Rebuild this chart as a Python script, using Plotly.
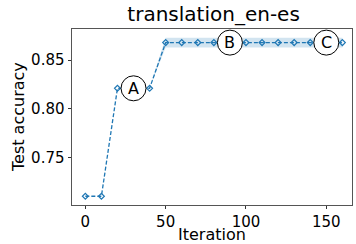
import plotly.graph_objects as go

iterations = [0, 10, 20, 30, 40, 50, 60, 70, 80, 90, 100, 110, 120, 130, 140, 150, 160]
accuracy = [0.710, 0.710, 0.821, 0.821, 0.821, 0.868, 0.868, 0.868, 0.868, 0.868,
            0.868, 0.868, 0.868, 0.868, 0.868, 0.868, 0.868]
band_low = [0.710, 0.710, 0.821, 0.821, 0.821, 0.863, 0.863, 0.863, 0.863, 0.863,
            0.863, 0.863, 0.863, 0.863, 0.863, 0.863, 0.863]
band_high = [0.710, 0.710, 0.821, 0.821, 0.821, 0.873, 0.873, 0.873, 0.873, 0.873,
             0.873, 0.873, 0.873, 0.873, 0.873, 0.873, 0.873]
labels = ["A", "B", "C"]
label_x = [30, 90, 150]
label_y = [0.821, 0.868, 0.868]

C0 = "#1f77b4"
FONT = "DejaVu Sans"

fig = go.Figure()
fig.add_trace(go.Scatter(x=iterations, y=band_high, mode="lines",
                         line=dict(width=0), hoverinfo="skip", showlegend=False))
fig.add_trace(go.Scatter(x=iterations, y=band_low, mode="lines", fill="tonexty",
                         fillcolor="rgba(31,119,180,0.2)",
                         line=dict(width=0), hoverinfo="skip", showlegend=False))
fig.add_trace(go.Scatter(x=iterations, y=accuracy, mode="lines+markers",
                         line=dict(color=C0, width=1.3, dash="4px,2px"),
                         marker=dict(symbol="diamond-open", size=4.5, color=C0,
                                     line=dict(width=1.2, color=C0)),
                         showlegend=False))

for lab, lx, ly in zip(labels, label_x, label_y):
    fig.add_shape(type="circle", xref="x", yref="y", xsizemode="pixel", ysizemode="pixel",
                  xanchor=lx, yanchor=ly, x0=-12.5, x1=12.5, y0=-12.5, y1=12.5,
                  fillcolor="white", line=dict(color="black", width=1), layer="above")
    fig.add_annotation(x=lx, y=ly, text=lab, showarrow=False,
                       font=dict(family=FONT, size=16, color="black"))

# axis titles as annotations for precise placement
fig.add_annotation(x=0.5, xref="paper", y=0, yref="paper", yanchor="top", yshift=-19,
                   text="Iteration", showarrow=False, borderpad=0,
                   font=dict(family=FONT, size=16, color="black"))
fig.add_annotation(x=0, xref="paper", y=0.5, yref="paper", xanchor="center", xshift=-54,
                   textangle=-90, text="Test accuracy", showarrow=False, borderpad=0,
                   font=dict(family=FONT, size=16, color="black"))

fig.update_layout(
    width=356, height=244,
    margin=dict(l=72, r=4, t=29, b=39, autoexpand=False),
    paper_bgcolor="white", plot_bgcolor="white",
    font=dict(family=FONT, color="black"),
    title=dict(text="translation_en-es", xref="container", x=0.6, xanchor="center",
               yref="container", y=0.97, yanchor="top", pad=dict(t=0, b=0),
               font=dict(family=FONT, size=20, color="black")),
    xaxis=dict(range=[-8.3, 166], tickvals=[0, 50, 100, 150], ticks="outside", ticklen=3,
               tickcolor="#333", showgrid=False, zeroline=False, showline=True,
               linecolor="#555", linewidth=1, mirror=True, automargin=False,
               tickfont=dict(family=FONT, size=15)),
    yaxis=dict(range=[0.701, 0.882], tickvals=[0.75, 0.80, 0.85], ticktext=["0.75", "0.80", "0.85"],
               ticks="outside", ticklen=3.5, tickcolor="#333", showgrid=False, zeroline=False,
               showline=True, linecolor="#555", linewidth=1, mirror=True, automargin=False,
               tickfont=dict(family=FONT, size=15)),
)

fig.write_html("out.html", config={"displayModeBar": False},
               post_script="document.body.style.margin='0px';")
